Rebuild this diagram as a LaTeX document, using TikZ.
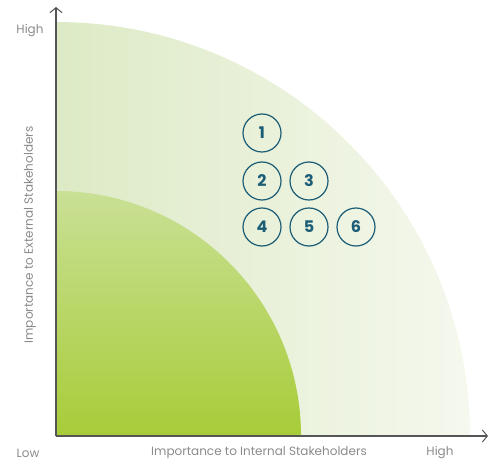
\documentclass[tikz,border=0pt]{standalone}
\usepackage{fontspec}
\setmainfont{Poppins}
\usetikzlibrary{arrows.meta}
\definecolor{axisgray}{HTML}{555555}
\definecolor{labelgray}{HTML}{8A8A8A}
\definecolor{teal}{HTML}{1B5C76}
\definecolor{outerL}{HTML}{DDEAC5}
\definecolor{outerR}{HTML}{F5F8EE}
\definecolor{innerT}{HTML}{C9E095}
\definecolor{innerB}{HTML}{A8CC38}
\tikzset{
  axis/.style={draw=axisgray, line width=1.1pt, -{Straight Barb[length=5pt,width=12pt,line width=1pt]}},
  lbl/.style={text=labelgray, font=\fontsize{12}{14}\selectfont},
  num/.style={circle, draw=teal, line width=1.2pt, minimum size=38pt, inner sep=0pt, text=teal, font=\fontsize{16}{18}\selectfont\bfseries}
}
\begin{document}
\begin{tikzpicture}[x=1pt,y=1pt]
\useasboundingbox (0,0) rectangle (497,464);
\shade[left color=outerL, right color=outerR] (56,28) -- (470,28) arc[start angle=0,end angle=90,radius=414] -- cycle;
\shade[top color=innerT, bottom color=innerB] (56,28) -- (301,28) arc[start angle=0,end angle=90,radius=245] -- cycle;
\coordinate (O) at (56,28);
\coordinate (Ytip) at (56,457);
\coordinate (Xtip) at (488,28);
\draw[axis] (O) -- (Ytip);
\draw[axis] (O) -- (Xtip);
\node[lbl] (high1) at (30,433) {High};
\node[lbl] (low) at (28,11) {Low};
\node[lbl] (xlab) at (259,11) {Importance to Internal Stakeholders};
\node[lbl] (high2) at (440,11) {High};
\node[lbl, rotate=90] (ylab) at (30,229) {Importance to External Stakeholders};
\node[num] (n1) at (262,331) {1};
\node[num] (n2) at (262,283) {2};
\node[num] (n3) at (309,283) {3};
\node[num] (n4) at (262,237) {4};
\node[num] (n5) at (309,237) {5};
\node[num] (n6) at (356,237) {6};
\end{tikzpicture}
\end{document}
